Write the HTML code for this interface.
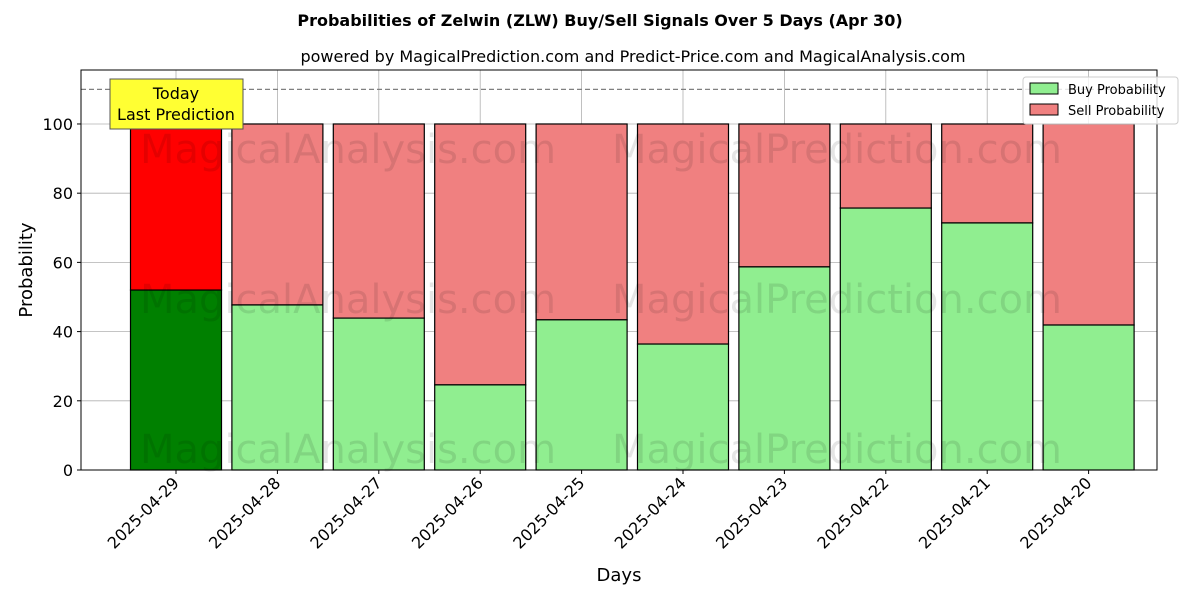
<!DOCTYPE html>
<html><head><meta charset="utf-8"><style>
body{margin:0;background:#fff;font-family:"Liberation Sans","DejaVu Sans",sans-serif}
</style></head><body>
<svg id="chart" width="1200" height="600" xmlns="http://www.w3.org/2000/svg" font-family="DejaVu Sans, Liberation Sans, sans-serif">
<text x="600" y="26" text-anchor="middle" font-size="16" font-weight="bold">Probabilities of Zelwin (ZLW) Buy/Sell Signals Over 5 Days (Apr 30)</text>
<text x="633" y="62" text-anchor="middle" font-size="16">powered by MagicalPrediction.com and Predict-Price.com and MagicalAnalysis.com</text>
<g id="plot"></g>
</svg>
<script>
const categories=["2025-04-29","2025-04-28","2025-04-27","2025-04-26","2025-04-25","2025-04-24","2025-04-23","2025-04-22","2025-04-21","2025-04-20"];
const buyValues=[52.0,47.7,43.9,24.6,43.4,36.4,58.7,75.7,71.4,41.9];
const yTicks=[0,20,40,60,80,100];
const L=81,R=1157,T=70,B=470,YMAX=115.6;
const y=v=>B-(v/YMAX)*(B-T);
const x=i=>176+i*101.4;
const BW=91;
const ns="http://www.w3.org/2000/svg";
const g=document.getElementById('plot');
function mk(tag,attrs,parent){const e=document.createElementNS(ns,tag);for(const k in attrs)e.setAttribute(k,attrs[k]);(parent||g).appendChild(e);return e;}
// grid
yTicks.forEach(t=>{const l=mk('line',{x1:L,x2:R,y1:y(t),y2:y(t),stroke:'#b0b0b0','stroke-width':0.8});

});
categories.forEach((c,i)=>{const l=mk('line',{x1:x(i),x2:x(i),y1:T,y2:B,stroke:'#b0b0b0','stroke-width':0.8});

});
// bars
categories.forEach((c,i)=>{
const b=buyValues[i];
const s=mk('rect',{x:x(i)-BW/2,y:y(100),width:BW,height:y(b)-y(100),fill:i==0?'#ff0000':'#f08080',stroke:'#000','stroke-width':1.2});


const r=mk('rect',{x:x(i)-BW/2,y:y(b),width:BW,height:B-y(b),fill:i==0?'#008000':'#90ee90',stroke:'#000','stroke-width':1.2});


});
// watermarks
[[150,'MagicalAnalysis.com',348],[150,'MagicalPrediction.com',837],[300,'MagicalAnalysis.com',348],[300,'MagicalPrediction.com',837],[450,'MagicalAnalysis.com',348],[450,'MagicalPrediction.com',837]].forEach(w=>{
const t=mk('text',{x:w[2],y:w[0]+13,'text-anchor':'middle','font-size':40,fill:'#000','fill-opacity':0.1});t.textContent=w[1];

});
// dashed line
const d=mk('line',{x1:L,x2:R,y1:y(110),y2:y(110),stroke:'#808080','stroke-width':1.2,'stroke-dasharray':'5,3'});


// frame
const f=mk('rect',{x:L,y:T,width:R-L,height:B-T,fill:'none',stroke:'#000','stroke-width':1});


// y ticks
yTicks.forEach(t=>{mk('line',{x1:L-4,x2:L,y1:y(t),y2:y(t),stroke:'#000'});
const tx=mk('text',{x:L-8,y:y(t)+6,'text-anchor':'end','font-size':16});tx.textContent=t;

});
// x ticks
categories.forEach((c,i)=>{mk('line',{x1:x(i),x2:x(i),y1:B,y2:B+4,stroke:'#000'});
const tx=mk('text',{x:x(i)+4,y:B+14,'text-anchor':'end','font-size':16,transform:`rotate(-45 ${x(i)+4} ${B+14})`});tx.textContent=c;

});
// axis titles
const xt=mk('text',{x:619,y:581,'text-anchor':'middle','font-size':18});xt.textContent='Days';


const yt=mk('text',{x:32,y:270,'text-anchor':'middle','font-size':18,transform:'rotate(-90 32 270)'});yt.textContent='Probability';


// today annotation
const ab=mk('rect',{x:110,y:79,width:133,height:50,fill:'#ffff33',stroke:'#555','stroke-width':1});


const a1=mk('text',{x:176,y:99,'text-anchor':'middle','font-size':16});a1.textContent='Today';


const a2=mk('text',{x:176,y:120,'text-anchor':'middle','font-size':16});a2.textContent='Last Prediction';


// legend
const lg=mk('rect',{x:1023,y:77,width:155,height:47,fill:'#fff','fill-opacity':0.8,stroke:'#ccc',rx:3});


[['Buy Probability','#90ee90',89],['Sell Probability','#f08080',110]].forEach(e=>{
const r=mk('rect',{x:1030,y:e[2]-6,width:28,height:11,fill:e[1],stroke:'#000'});


const t=mk('text',{x:1068,y:e[2]+5,'font-size':13});t.textContent=e[0];

});
</script>
</body></html>
